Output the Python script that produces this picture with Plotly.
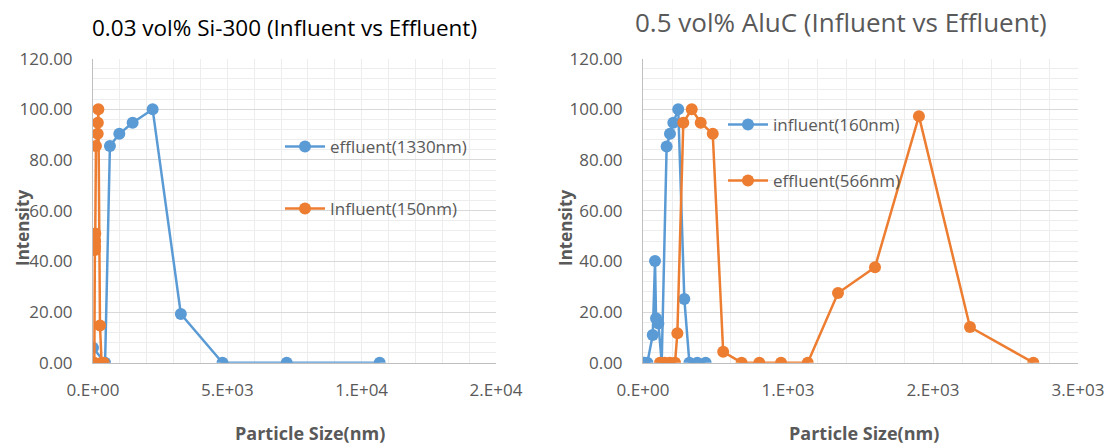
import plotly.graph_objects as go

# ---- data ----
si_eff_x = [0, 450, 630, 980, 1475, 2220, 3270, 4820, 7210, 10670]
si_eff_y = [5.9, 0, 85.5, 90.3, 94.7, 100.0, 19.2, 0, 0, 0]
si_inf_x = [20, 50, 70, 75, 80, 85, 110, 175, 180, 200, 260, 320, 400]
si_inf_y = [0, 0, 44.5, 46.0, 48.0, 51.0, 85.5, 90.3, 94.7, 100.0, 14.7, 0, 0]

alu_inf_x = [10, 30, 67, 83, 90, 106, 129, 163, 186, 209, 243, 285, 320, 374, 432]
alu_inf_y = [0, 0, 10.9, 40.1, 17.5, 15.5, 0, 85.3, 90.3, 94.7, 100.0, 25.1, 0, 0, 0]
alu_eff_x = [117, 150, 185, 221, 237, 278, 336, 398, 481, 553, 680, 802, 952, 1136,
             1345, 1600, 1903, 2255, 2692]
alu_eff_y = [0, 0, 0, 0, 11.6, 94.7, 100.0, 94.7, 90.3, 4.3, 0, 0, 0, 0,
             27.5, 37.7, 97.3, 14.1, 0]

left_xticks = [0, 5000, 10000, 15000]
left_xlabels = ["0.E+00", "5.E+03", "1.E+04", "2.E+04"]
right_xticks = [0, 1000, 2000, 3000]
right_xlabels = ["0.E+00", "1.E+03", "2.E+03", "3.E+03"]
yticks = [0, 20, 40, 60, 80, 100, 120]

left_title = "0.03 vol% Si-300 (Influent vs Effluent)"
right_title = "0.5 vol% AluC (Influent vs Effluent)"

BLUE = "#5B9BD5"
ORANGE = "#ED7D31"
GRAY = "#595959"
FONT = "Open Sans"

W, H = 1106, 446

def px(x):
    return x / W

def py(y):
    return 1 - y / H

fig = go.Figure()

def add_series(x, y, name, color, xa, ya, legend):
    fig.add_trace(go.Scatter(
        x=x, y=y, name=name, mode="lines+markers", showlegend=True,
        line=dict(color=color, width=2.5),
        marker=dict(color=color, size=12),
        xaxis=xa, yaxis=ya, legend=legend,
    ))

add_series(si_eff_x, si_eff_y, "effluent(1330nm)", BLUE, "x", "y", "legend")
add_series(si_inf_x, si_inf_y, "Influent(150nm)", ORANGE, "x", "y", "legend2")
add_series(alu_inf_x, alu_inf_y, "influent(160nm)", BLUE, "x2", "y2", "legend3")
add_series(alu_eff_x, alu_eff_y, "effluent(566nm)", ORANGE, "x2", "y2", "legend4")

y_bottom = py(362.7)
y_top = py(58.6)

def xaxis_cfg(lo, hi, rng, ticks, labels, minor):
    return dict(
        domain=[px(lo), px(hi)], range=rng, tickvals=ticks, ticktext=labels,
        showgrid=True, gridcolor="#EDEDED", gridwidth=1,
        minor=dict(dtick=minor, showgrid=True, gridcolor="#EDEDED", gridwidth=1),
        showline=True, linecolor="#BFBFBF", linewidth=1,
        zeroline=False, ticks="", ticklabelstandoff=12, automargin=False,
        tickfont=dict(family=FONT, size=17, color=GRAY),
        fixedrange=True,
    )

def yaxis_cfg(anchor):
    return dict(
        domain=[y_bottom, y_top], range=[0, 120], tickvals=yticks,
        tickformat=".2f", anchor=anchor, automargin=False,
        showgrid=True, gridcolor="#D9D9D9", gridwidth=1,
        minor=dict(dtick=4, showgrid=True, gridcolor="#EDEDED", gridwidth=1),
        showline=True, linecolor="#BFBFBF", linewidth=1,
        zeroline=False, ticks="", ticklabelstandoff=16,
        tickfont=dict(family=FONT, size=17, color=GRAY),
        fixedrange=True,
    )

def legend_cfg(x, y):
    return dict(
        x=px(x), y=py(y), xanchor="left", yanchor="middle",
        bgcolor="rgba(0,0,0,0)", borderwidth=0,
        font=dict(family=FONT, size=17, color=GRAY),
        itemwidth=40,
    )

fig.update_layout(
    width=W, height=H, showlegend=True,
    margin=dict(l=0, r=0, t=0, b=0),
    paper_bgcolor="white", plot_bgcolor="white",
    xaxis=xaxis_cfg(93, 496, [0, 15000], left_xticks, left_xlabels, 1000),
    yaxis=yaxis_cfg("x"),
    xaxis2=dict(anchor="y2", **xaxis_cfg(643, 1078, [0, 3000], right_xticks, right_xlabels, 200)),
    yaxis2=yaxis_cfg("x2"),
    legend=legend_cfg(280, 147),
    legend2=legend_cfg(280, 209),
    legend3=legend_cfg(723, 125),
    legend4=legend_cfg(723, 181),
    font=dict(family=FONT, color=GRAY),
)

annotations = [
    dict(text=left_title, x=px(284), y=py(28), font=dict(size=22.5, color="#000000")),
    dict(text=right_title, x=px(841), y=py(22), font=dict(size=26, color=GRAY)),
    dict(text="<b>Intensity</b>", x=px(22), y=py(228), textangle=-90,
         font=dict(size=17, color=GRAY)),
    dict(text="<b>Intensity</b>", x=px(565), y=py(228), textangle=-90,
         font=dict(size=17, color=GRAY)),
    dict(text="<b>Particle Size(nm)</b>", x=px(310), y=py(433),
         font=dict(size=18, color=GRAY)),
    dict(text="<b>Particle Size(nm)</b>", x=px(864), y=py(433),
         font=dict(size=18, color=GRAY)),
]
for a in annotations:
    fig.add_annotation(xref="paper", yref="paper", showarrow=False,
                       xanchor="center", yanchor="middle", **a)
for a in fig.layout.annotations:
    a.font.family = FONT

fig.write_html("out.html")
